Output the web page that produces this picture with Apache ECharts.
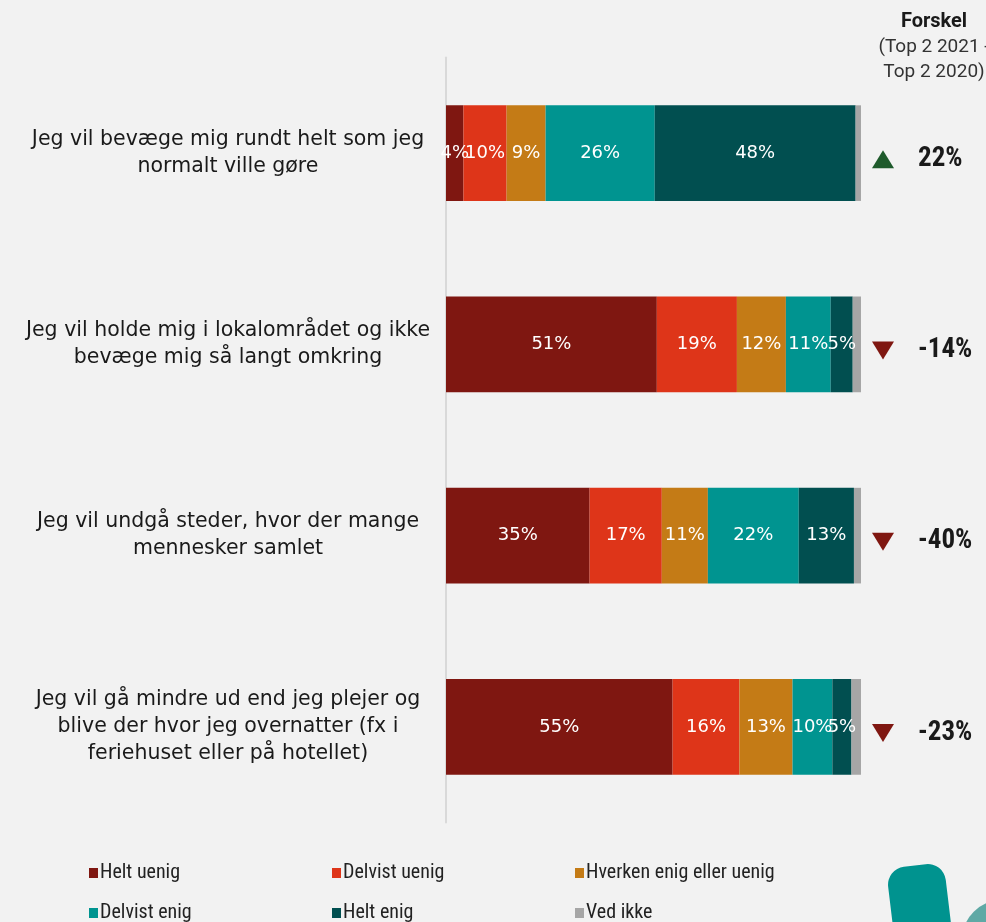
<!DOCTYPE html>
<html>
<head>
<meta charset="utf-8">
<style>
  html, body { margin: 0; padding: 0; background: #f2f2f2; }
  #chart { width: 986px; height: 922px; }
</style>
<script src="https://cdn.jsdelivr.net/npm/echarts@6/dist/echarts.min.js"></script>
</head>
<body>
<div id="chart"></div>
<script>
// statements (y axis)
const categories = [
    'Jeg vil bevæge mig rundt helt som jeg\nnormalt ville gøre',
    'Jeg vil holde mig i lokalområdet og ikke\nbevæge mig så langt omkring',
    'Jeg vil undgå steder, hvor der mange\nmennesker samlet',
    'Jeg vil gå mindre ud end jeg plejer og\nblive der hvor jeg overnatter (fx i\nferiehuset eller på hotellet)'
]

// answer shares in %
const heltUenig    = [4.2, 50.8, 34.6, 54.6]
const delvistUenig = [10.4, 19.3, 17.4, 16.1]
const hverken      = [9.4, 11.8, 11.1, 12.8]
const delvistEnig  = [26.3, 10.8, 21.9, 9.6]
const heltEnig     = [48.4, 5.3, 13.3, 4.6]
const vedIkke      = [1.3, 2.0, 1.7, 2.3]

// Top 2 2021 - Top 2 2020
const forskel = [22, -14, -40, -23]

const seriesNames = ['Helt uenig', 'Delvist uenig', 'Hverken enig eller uenig', 'Delvist enig', 'Helt enig', 'Ved ikke']
const seriesData = [heltUenig, delvistUenig, hverken, delvistEnig, heltEnig, vedIkke]
const colors = ['#7f1711', '#de3519', '#c47b16', '#009490', '#014f50', '#a6a6a6']

const font = '"DejaVu Sans", sans-serif'
const titleFont = 'Roboto, "Noto Sans", sans-serif'
const narrow = '"Liberation Sans Narrow", "Roboto Condensed", Roboto, sans-serif'

let chart = echarts.init(document.getElementById('chart'))

let barSeries = seriesNames.map((name, i) => ({
    name: name,
    type: 'bar',
    stack: 'total',
    barWidth: '50%',
    xAxisIndex: 0,
    yAxisIndex: 0,
    itemStyle: { color: colors[i] },
    label: {
        show: name !== 'Ved ikke',
        color: '#fff',
        fontFamily: font,
        fontSize: 18,
        formatter: p => Math.round(p.value) + '%'
    },
    data: seriesData[i]
}))

// one legend per item: three columns, two rows
let legends = seriesNames.map((name, i) => ({
    left: 89 + (i % 3) * 243,
    top: 863 + Math.floor(i / 3) * 40,
    padding: 0,
    itemWidth: 9,
    itemHeight: 10,
    icon: 'rect',
    textStyle: { fontFamily: narrow, fontSize: 20, color: '#222', padding: [0, 0, 0, -3] },
    data: [name]
}))

chart.setOption({
    backgroundColor: '#f2f2f2',
    color: colors,
    title: {
        text: 'Forskel',
        subtext: '(Top 2 2021 -\nTop 2 2020)',
        left: 929,
        top: 7,
        textAlign: 'center',
        itemGap: 3,
        textStyle: { fontFamily: titleFont, fontSize: 20, fontWeight: 'bold', color: '#1a1a1a' },
        subtextStyle: { fontFamily: titleFont, fontSize: 19, color: '#333', lineHeight: 25 }
    },
    legend: legends,
    grid: [
        { left: 446, right: 125, top: 57.5, bottom: 99.5 },
        { left: 861, right: 0, top: 57.5, bottom: 99.5 }
    ],
    xAxis: [
        { gridIndex: 0, type: 'value', min: 0, max: 100, show: false },
        { gridIndex: 1, type: 'value', min: 0, max: 125, show: false }
    ],
    yAxis: [
        {
            gridIndex: 0,
            type: 'category',
            inverse: true,
            data: categories,
            axisTick: { show: false },
            axisLine: { show: true, lineStyle: { color: '#d9d9d9', width: 2 } },
            axisLabel: {
                align: 'center',
                margin: 218,
                fontFamily: font,
                fontSize: 20.5,
                lineHeight: 27,
                color: '#1a1a1a'
            }
        },
        {
            gridIndex: 1,
            type: 'category',
            inverse: true,
            data: categories,
            show: false
        }
    ],
    series: barSeries.concat([
        {
            name: 'Forskel',
            type: 'scatter',
            xAxisIndex: 1,
            yAxisIndex: 1,
            symbol: 'triangle',
            symbolSize: [22, 18],
            symbolOffset: [0, 6],
            data: forskel.map((v, i) => ({
                value: [22, categories[i]],
                raw: v,
                symbolRotate: v < 0 ? 180 : 0,
                itemStyle: { color: v < 0 ? '#7f1711' : '#1e5a2b', opacity: 1 }
            })),
            label: {
                show: true,
                position: 'right',
                distance: 24,
                formatter: p => p.data.raw + '%',
                fontFamily: narrow,
                fontSize: 27,
                fontWeight: 'bold',
                color: '#1a1a1a'
            }
        }
    ]),
    graphic: [
        {
            type: 'rect',
            left: 886,
            top: 862,
            rotation: 0.12,
            shape: { width: 58, height: 120, r: [18, 18, 0, 0] },
            style: { fill: '#00938f' },
            silent: true
        },
        {
            type: 'circle',
            left: 962,
            top: 900,
            shape: { r: 40 },
            style: { fill: '#5fa9a5' },
            silent: true
        }
    ]
})
</script>
</body>
</html>
